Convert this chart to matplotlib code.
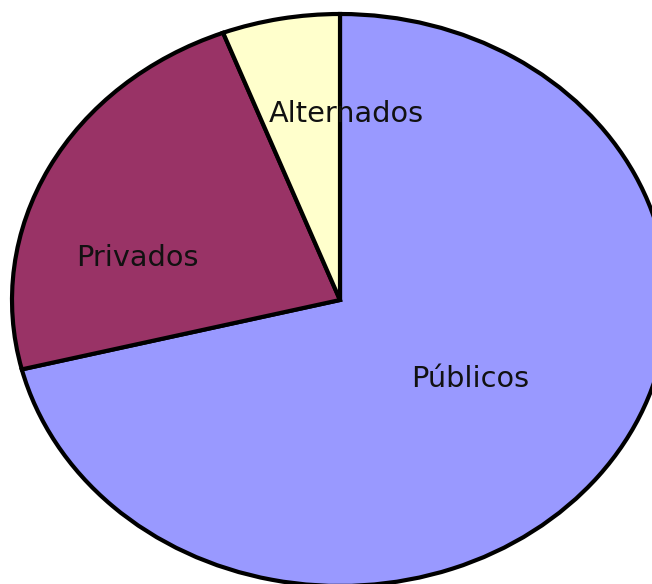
import matplotlib.pyplot as plt

# share of each sector
labels = ['Públicos', 'Privados', 'Alternados']
values = [71.1, 23.1, 5.8]
colors = ['#9999FF', '#993366', '#FFFFCC']

# label baseline positions in pie (data) coordinates
label_pos = [(0.398, -0.304), (-0.617, 0.119), (0.020, 0.622)]

fig = plt.figure(figsize=(6.52, 5.84), dpi=100)
ax = fig.add_axes([12 / 652, -2 / 584, 656 / 652, 572 / 584])

ax.pie(values, colors=colors, startangle=90, counterclock=False,
       wedgeprops=dict(edgecolor='black', linewidth=3))
ax.set_aspect('auto')
ax.set_xlim(-1, 1)
ax.set_ylim(-1, 1)
ax.axis('off')

for lab, (x, y) in zip(labels, label_pos):
    ax.text(x, y, lab, ha='center', va='baseline', fontsize=20.7, color='#111111')

plt.savefig('out.png', facecolor='white')
